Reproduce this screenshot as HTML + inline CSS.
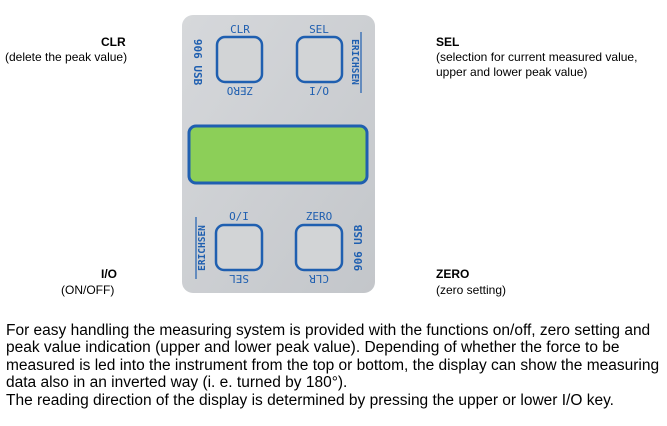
<!DOCTYPE html>
<html><head><style>
body{margin:0;width:667px;height:426px;background:#fff;font-family:"Liberation Sans",sans-serif;color:#000;position:relative;overflow:hidden}
.l{position:absolute;font-size:12px;line-height:15px}
.b{font-weight:bold}
.p{position:absolute;left:6px;top:322px;font-size:15.5px;line-height:17.4px;width:655px;white-space:nowrap}
</style></head><body>
<div class="l" style="left:101px;top:35px"><span class="b">CLR</span></div>
<div class="l" style="left:5px;top:50px">(delete the peak value)</div>
<div class="l" style="left:436px;top:35px"><span class="b">SEL</span></div>
<div class="l" style="left:436px;top:50px">(selection for current measured value,<br>upper and lower peak value)</div>
<div class="l" style="left:101px;top:267px"><span class="b">I/O</span></div>
<div class="l" style="left:61px;top:283px">(ON/OFF)</div>
<div class="l" style="left:436px;top:267px"><span class="b">ZERO</span></div>
<div class="l" style="left:436px;top:283px">(zero setting)</div>
<svg style="position:absolute;left:0;top:0" width="667" height="426">
<defs><linearGradient id="g" x1="0" y1="0" x2="1" y2="1"><stop offset="0" stop-color="#d6d8db"/><stop offset="1" stop-color="#c3c6ca"/></linearGradient></defs>
<rect x="182" y="15" width="193" height="278" rx="11" fill="url(#g)"/>
<g fill="#d2d4d6" stroke="#1f5fb0" stroke-width="2.5">
<rect x="217" y="37" width="45" height="45" rx="8"/>
<rect x="297" y="37" width="45" height="45" rx="8"/>
<rect x="216" y="225" width="46" height="45" rx="8"/>
<rect x="296" y="225" width="46" height="45" rx="8"/>
</g>
<rect x="189" y="126" width="178" height="57" rx="7" fill="#8ccf58" stroke="#1f5fb0" stroke-width="3"/>
<g fill="#1f5fb0" font-family="DejaVu Sans Mono,monospace" font-size="11" text-anchor="middle">
<text x="240" y="33">CLR</text>
<text x="319" y="33">SEL</text>
<text transform="translate(240,87) rotate(180)">ZERO</text>
<text transform="translate(319,87) rotate(180)">O/I</text>
<text x="239" y="220">O/I</text>
<text x="319" y="220">ZERO</text>
<text transform="translate(239,275) rotate(180)">SEL</text>
<text transform="translate(319,275) rotate(180)">CLR</text>
<text transform="translate(194,62) rotate(90)" font-weight="bold">906 USB</text>
<text transform="translate(362,248) rotate(-90)" font-weight="bold">906 USB</text>
<text transform="translate(352,62) rotate(90)" font-weight="bold" font-size="9.5">ERICHSEN</text>
<text transform="translate(205,248) rotate(-90)" font-weight="bold" font-size="9.5">ERICHSEN</text>
</g>
<g stroke="#1f5fb0" stroke-width="1.2">
<line x1="361" y1="32" x2="361" y2="93"/><line x1="196" y1="217" x2="196" y2="279"/>
</g>
</svg>
<div class="p">For easy handling the measuring system is provided with the functions on/off, zero setting and<br>peak value indication (upper and lower peak value). Depending of whether the force to be<br>measured is led into the instrument from the top or bottom, the display can show the measuring<br>data also in an inverted way (i. e. turned by 180°).<br>The reading direction of the display is determined by pressing the upper or lower I/O key.</div>
</body></html>
